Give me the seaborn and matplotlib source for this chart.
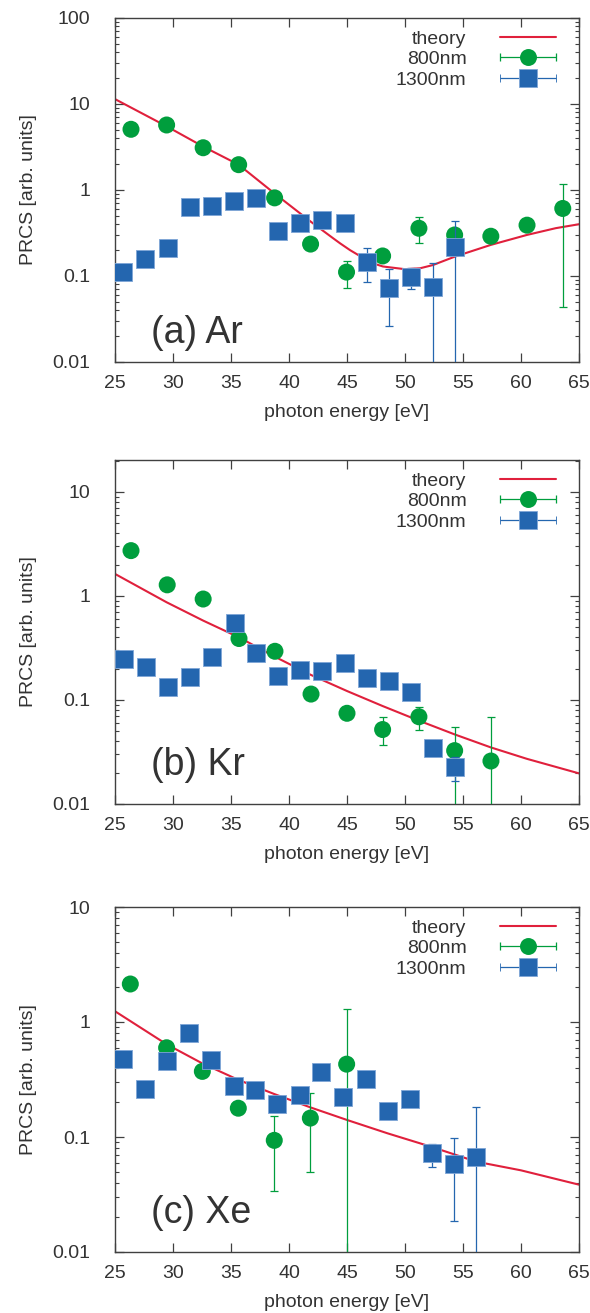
import numpy as np
import pandas as pd
import matplotlib
matplotlib.use("Agg")
import matplotlib.pyplot as plt
import seaborn as sns
from matplotlib.container import ErrorbarContainer
from matplotlib.legend_handler import HandlerErrorbar
from matplotlib.ticker import LogLocator, NullFormatter, FixedLocator, FixedFormatter

# ---------------- data ----------------
# (a) Ar
th_a_E = [25, 29.45, 32.6, 35.66, 38.76, 41.86, 43.8, 44.4, 45.26, 46.3, 47.27, 48.1, 50.0, 51.3, 52.4, 54.3, 57.4, 60.5, 63.0, 65.0]
th_a_v = [11.4, 5.5, 3.2, 1.97, 0.91, 0.43, 0.275, 0.24, 0.20, 0.165, 0.14, 0.129, 0.12, 0.123, 0.134, 0.168, 0.23, 0.30, 0.36, 0.40]
g_a_E = [26.38, 29.45, 32.6, 35.66, 38.76, 41.86, 44.96, 48.07, 51.2, 54.28, 57.4, 60.52, 63.6]
g_a_v = [5.08, 5.7, 3.1, 1.97, 0.81, 0.235, 0.111, 0.171, 0.359, 0.30, 0.29, 0.39, 0.61]
g_a_lo = [np.nan] * 6 + [0.072, np.nan, 0.24, np.nan, np.nan, 0.34, 0.044]
g_a_hi = [np.nan] * 6 + [0.149, np.nan, 0.48, np.nan, np.nan, 0.45, 1.17]
b_a_E = [25.72, 27.6, 29.53, 31.47, 33.33, 35.28, 37.16, 39.02, 40.97, 42.87, 44.83, 46.7, 48.62, 50.49, 52.39, 54.31]
b_a_v = [0.112, 0.156, 0.21, 0.64, 0.66, 0.745, 0.81, 0.337, 0.41, 0.448, 0.417, 0.147, 0.073, 0.098, 0.074, 0.22]
b_a_lo = [np.nan] * 11 + [0.086, 0.026, 0.071, 0.001, 0.001]
b_a_hi = [np.nan] * 11 + [0.21, 0.12, 0.125, 0.14, 0.44]

# (b) Kr
th_b_E = [25, 29.45, 32.6, 35.69, 38.8, 41.9, 45.0, 48.07, 51.2, 54.3, 57.4, 60.5, 65.0]
th_b_v = [1.63, 0.87, 0.58, 0.40, 0.26, 0.174, 0.122, 0.0875, 0.0633, 0.0466, 0.035, 0.0272, 0.0197]
g_b_E = [26.38, 29.5, 32.6, 35.69, 38.79, 41.9, 45.0, 48.07, 51.2, 54.28, 57.41]
g_b_v = [2.73, 1.28, 0.935, 0.39, 0.294, 0.114, 0.0745, 0.052, 0.069, 0.0326, 0.0259]
g_b_lo = [np.nan] * 7 + [0.037, 0.0515, 0.001, 0.001]
g_b_hi = [np.nan] * 7 + [0.068, 0.086, 0.055, 0.069]
b_b_E = [25.78, 27.64, 29.57, 31.47, 33.36, 35.32, 37.18, 39.05, 40.98, 42.87, 44.83, 46.7, 48.62, 50.52, 52.41, 54.31]
b_b_v = [0.248, 0.206, 0.134, 0.166, 0.257, 0.546, 0.281, 0.17, 0.194, 0.192, 0.225, 0.161, 0.153, 0.12, 0.0343, 0.0229]
b_b_lo = [np.nan] * 12 + [0.14, np.nan, 0.029, 0.0167]
b_b_hi = [np.nan] * 12 + [0.165, np.nan, 0.038, 0.028]

# (c) Xe
th_c_E = [25, 29.45, 32.5, 35.6, 38.7, 41.84, 44.97, 48.5, 52.3, 56.15, 60.0, 65.0]
th_c_v = [1.24, 0.64, 0.438, 0.315, 0.237, 0.181, 0.141, 0.1076, 0.082, 0.061, 0.0513, 0.0385]
g_c_E = [26.32, 29.45, 32.53, 35.63, 38.73, 41.84, 44.97]
g_c_v = [2.14, 0.597, 0.372, 0.178, 0.0935, 0.146, 0.43]
g_c_lo = [np.nan] * 4 + [0.034, 0.05, 0.001]
g_c_hi = [np.nan] * 4 + [0.151, 0.239, 1.29]
b_c_E = [25.72, 27.59, 29.48, 31.41, 33.3, 35.23, 37.1, 39.0, 40.92, 42.79, 44.69, 46.64, 48.56, 50.43, 52.33, 54.25, 56.15]
b_c_v = [0.48, 0.264, 0.46, 0.797, 0.467, 0.277, 0.254, 0.195, 0.231, 0.367, 0.224, 0.32, 0.168, 0.212, 0.0726, 0.0586, 0.0665]
b_c_lo = [np.nan] * 14 + [0.0548, 0.0187, 0.001]
b_c_hi = [np.nan] * 14 + [0.0875, 0.098, 0.183]

panel_labels = ["(a) Ar", "(b) Kr", "(c) Xe"]
series_labels = ["theory", "800nm", "1300nm"]
x_ticks = [25, 30, 35, 40, 45, 50, 55, 60, 65]
y_ticks_all = [0.01, 0.1, 1, 10, 100]
y_ticklabels_all = ["0.01", "0.1", "1", "10", "100"]

# ---------------- style ----------------
sns.set_theme(style="ticks")
plt.rcParams["font.family"] = ["Liberation Sans", "DejaVu Sans"]
TXT = "#333333"
RED = "#e0203c"
GREEN = "#009e3d"
BLUE = "#2466af"

fig = plt.figure(figsize=(5.9, 13.13), dpi=100)
W, H = 590.0, 1313.0
boxes = [(115, 18, 579, 362), (115, 460, 579, 804), (115, 907, 579, 1252)]
ylims = [(0.01, 100), (0.01, 20.3), (0.01, 10)]
label_y = [0.054, 0.084, 0.083]

panels = [
    (th_a_E, th_a_v, g_a_E, g_a_v, g_a_lo, g_a_hi, b_a_E, b_a_v, b_a_lo, b_a_hi),
    (th_b_E, th_b_v, g_b_E, g_b_v, g_b_lo, g_b_hi, b_b_E, b_b_v, b_b_lo, b_b_hi),
    (th_c_E, th_c_v, g_c_E, g_c_v, g_c_lo, g_c_hi, b_c_E, b_c_v, b_c_lo, b_c_hi),
]

for i, (box, p) in enumerate(zip(boxes, panels)):
    x0, y0, x1, y1 = box
    ax = fig.add_axes([x0 / W, 1 - y1 / H, (x1 - x0) / W, (y1 - y0) / H])
    thE, thv, gE, gv, glo, ghi, bE, bv, blo, bhi = p

    sns.lineplot(x=thE, y=thv, ax=ax, color=RED, lw=1.5, legend=False, zorder=2)

    gE_a, gv_a = np.array(gE), np.array(gv)
    glo_a, ghi_a = np.array(glo), np.array(ghi)
    m = ~np.isnan(glo_a)
    ax.errorbar(gE_a[m], gv_a[m], yerr=[gv_a[m] - glo_a[m], ghi_a[m] - gv_a[m]],
                fmt="none", ecolor=GREEN, elinewidth=0.9, capsize=3, capthick=0.9, zorder=3)
    sns.scatterplot(x=gE, y=gv, ax=ax, marker="o", s=150, color=GREEN, edgecolor="none",
                    legend=False, zorder=4)

    bE_a, bv_a = np.array(bE), np.array(bv)
    blo_a, bhi_a = np.array(blo), np.array(bhi)
    m = ~np.isnan(blo_a)
    ax.errorbar(bE_a[m], bv_a[m], yerr=[bv_a[m] - blo_a[m], bhi_a[m] - bv_a[m]],
                fmt="none", ecolor=BLUE, elinewidth=0.9, capsize=3, capthick=0.9, zorder=5)
    sns.scatterplot(x=bE, y=bv, ax=ax, marker="s", s=165, color=BLUE, edgecolor="#7fa6d6",
                    linewidth=0.6, legend=False, zorder=6)

    ax.set_yscale("log")
    ax.set_xlim(25, 65)
    ax.set_ylim(*ylims[i])
    ax.set_xticks(x_ticks)
    ax.set_xticklabels([str(t) for t in x_ticks])
    yt = [t for t in y_ticks_all if t <= ylims[i][1]]
    ylab = [l for t, l in zip(y_ticks_all, y_ticklabels_all) if t <= ylims[i][1]]
    ax.yaxis.set_major_locator(FixedLocator(yt))
    ax.yaxis.set_major_formatter(FixedFormatter(ylab))
    ax.yaxis.set_minor_locator(LogLocator(base=10, subs=np.arange(2, 10)))
    ax.yaxis.set_minor_formatter(NullFormatter())

    ax.tick_params(which="both", direction="in", top=True, right=True, colors="#404040",
                   labelcolor=TXT, labelsize=14)
    ax.tick_params(axis="y", which="major", length=6.5, width=0.9, pad=18)
    ax.tick_params(axis="y", which="minor", length=3.2, width=0.8)
    ax.tick_params(axis="x", which="major", length=6.5, width=0.9, pad=9)
    for s in ax.spines.values():
        s.set_color("#404040")
        s.set_linewidth(1.0)

    ax.set_xlabel("photon energy [eV]", fontsize=14, color=TXT, labelpad=9)
    ax.set_ylabel("PRCS [arb. units]", fontsize=14, color=TXT, labelpad=11)

    ax.text(0.077, label_y[i], panel_labels[i], transform=ax.transAxes, fontsize=27,
            color=TXT, ha="left", va="baseline")

    # legend proxies
    line_h = ax.get_lines()[0]
    gp = ax.errorbar([np.nan], [np.nan], xerr=[np.nan], fmt="o", color=GREEN, ms=12.2,
                     mec="none", elinewidth=0.9, capsize=3, capthick=0.9)
    bp = ax.errorbar([np.nan], [np.nan], xerr=[np.nan], fmt="s", color=BLUE, ms=12.8,
                     mec="#7fa6d6", mew=0.6, elinewidth=0.9, capsize=3, capthick=0.9)
    leg = ax.legend([line_h, gp, bp], series_labels, loc="upper right",
                    bbox_to_anchor=(1 - 23 / 464, 1 - 12 / 344), borderaxespad=0,
                    frameon=False, markerfirst=False, fontsize=14, handlelength=2.9,
                    handletextpad=1.7, labelspacing=0.15, borderpad=0,
                    handler_map={ErrorbarContainer: HandlerErrorbar(xerr_size=1.45)})
    for t in leg.get_texts():
        t.set_color(TXT)

fig.savefig("out.png", dpi=100)
